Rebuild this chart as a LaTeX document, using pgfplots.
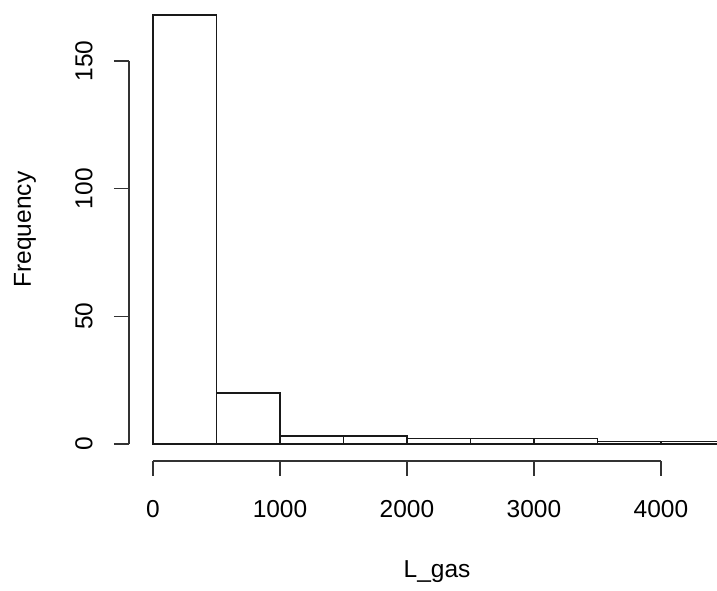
\documentclass[border=0pt]{standalone}
\usepackage{fontspec}
\setmainfont{Liberation Sans}
\usepackage{pgfplots}
\pgfplotsset{compat=1.18}
\begin{document}
\fontsize{24.5}{28}\selectfont
\begin{tikzpicture}[x=1pt,y=1pt]
\begin{axis}[
  at={(129pt,130pt)}, anchor=south west,
  scale only axis, width=588pt, height=463pt,
  xmin=-189, xmax=4441, ymin=-6.72, ymax=174.72,
  axis x line*=bottom, axis y line*=left,
  axis line style={draw=none},
  clip=false,
  xtick={0,1000,2000,3000,4000},
  ytick={0,50,100,150},
  tick align=outside, major tick length=15pt,
  tick style={black!80, line width=1.3pt},
  /pgf/number format/assume math mode=true,
  /pgf/number format/1000 sep={},
  xticklabel style={font=\fontsize{24.5}{28}\selectfont},
  xticklabel shift=16pt,
  yticklabel style={font=\fontsize{24.5}{28}\selectfont, xshift=-13pt, rotate=90, anchor=south},
  xlabel={L\_gas}, ylabel={Frequency},
  every axis x label/.style={at={(rel axis cs:0.524,-0.238)}, anchor=center, font=\fontsize{24.5}{28}\selectfont},
  every axis y label/.style={at={(rel axis cs:-0.177,0.5)}, anchor=center, rotate=90, font=\fontsize{24.5}{28}\selectfont},
]
\addplot[ybar interval, fill=white, draw=black!90, line width=1.4pt] coordinates {
  (0,168) (500,20) (1000,3) (1500,3) (2000,2) (2500,2) (3000,2) (3500,1) (4000,1) (4500,0)
};
\draw[black!80, line width=1.3pt] (axis cs:0,-6.72) -- (axis cs:4000,-6.72);
\draw[black!80, line width=1.3pt] (axis cs:-189,0) -- (axis cs:-189,150);
\end{axis}
\pgfresetboundingbox
\useasboundingbox (0,0) rectangle (717pt,591pt);
\end{tikzpicture}
\end{document}
